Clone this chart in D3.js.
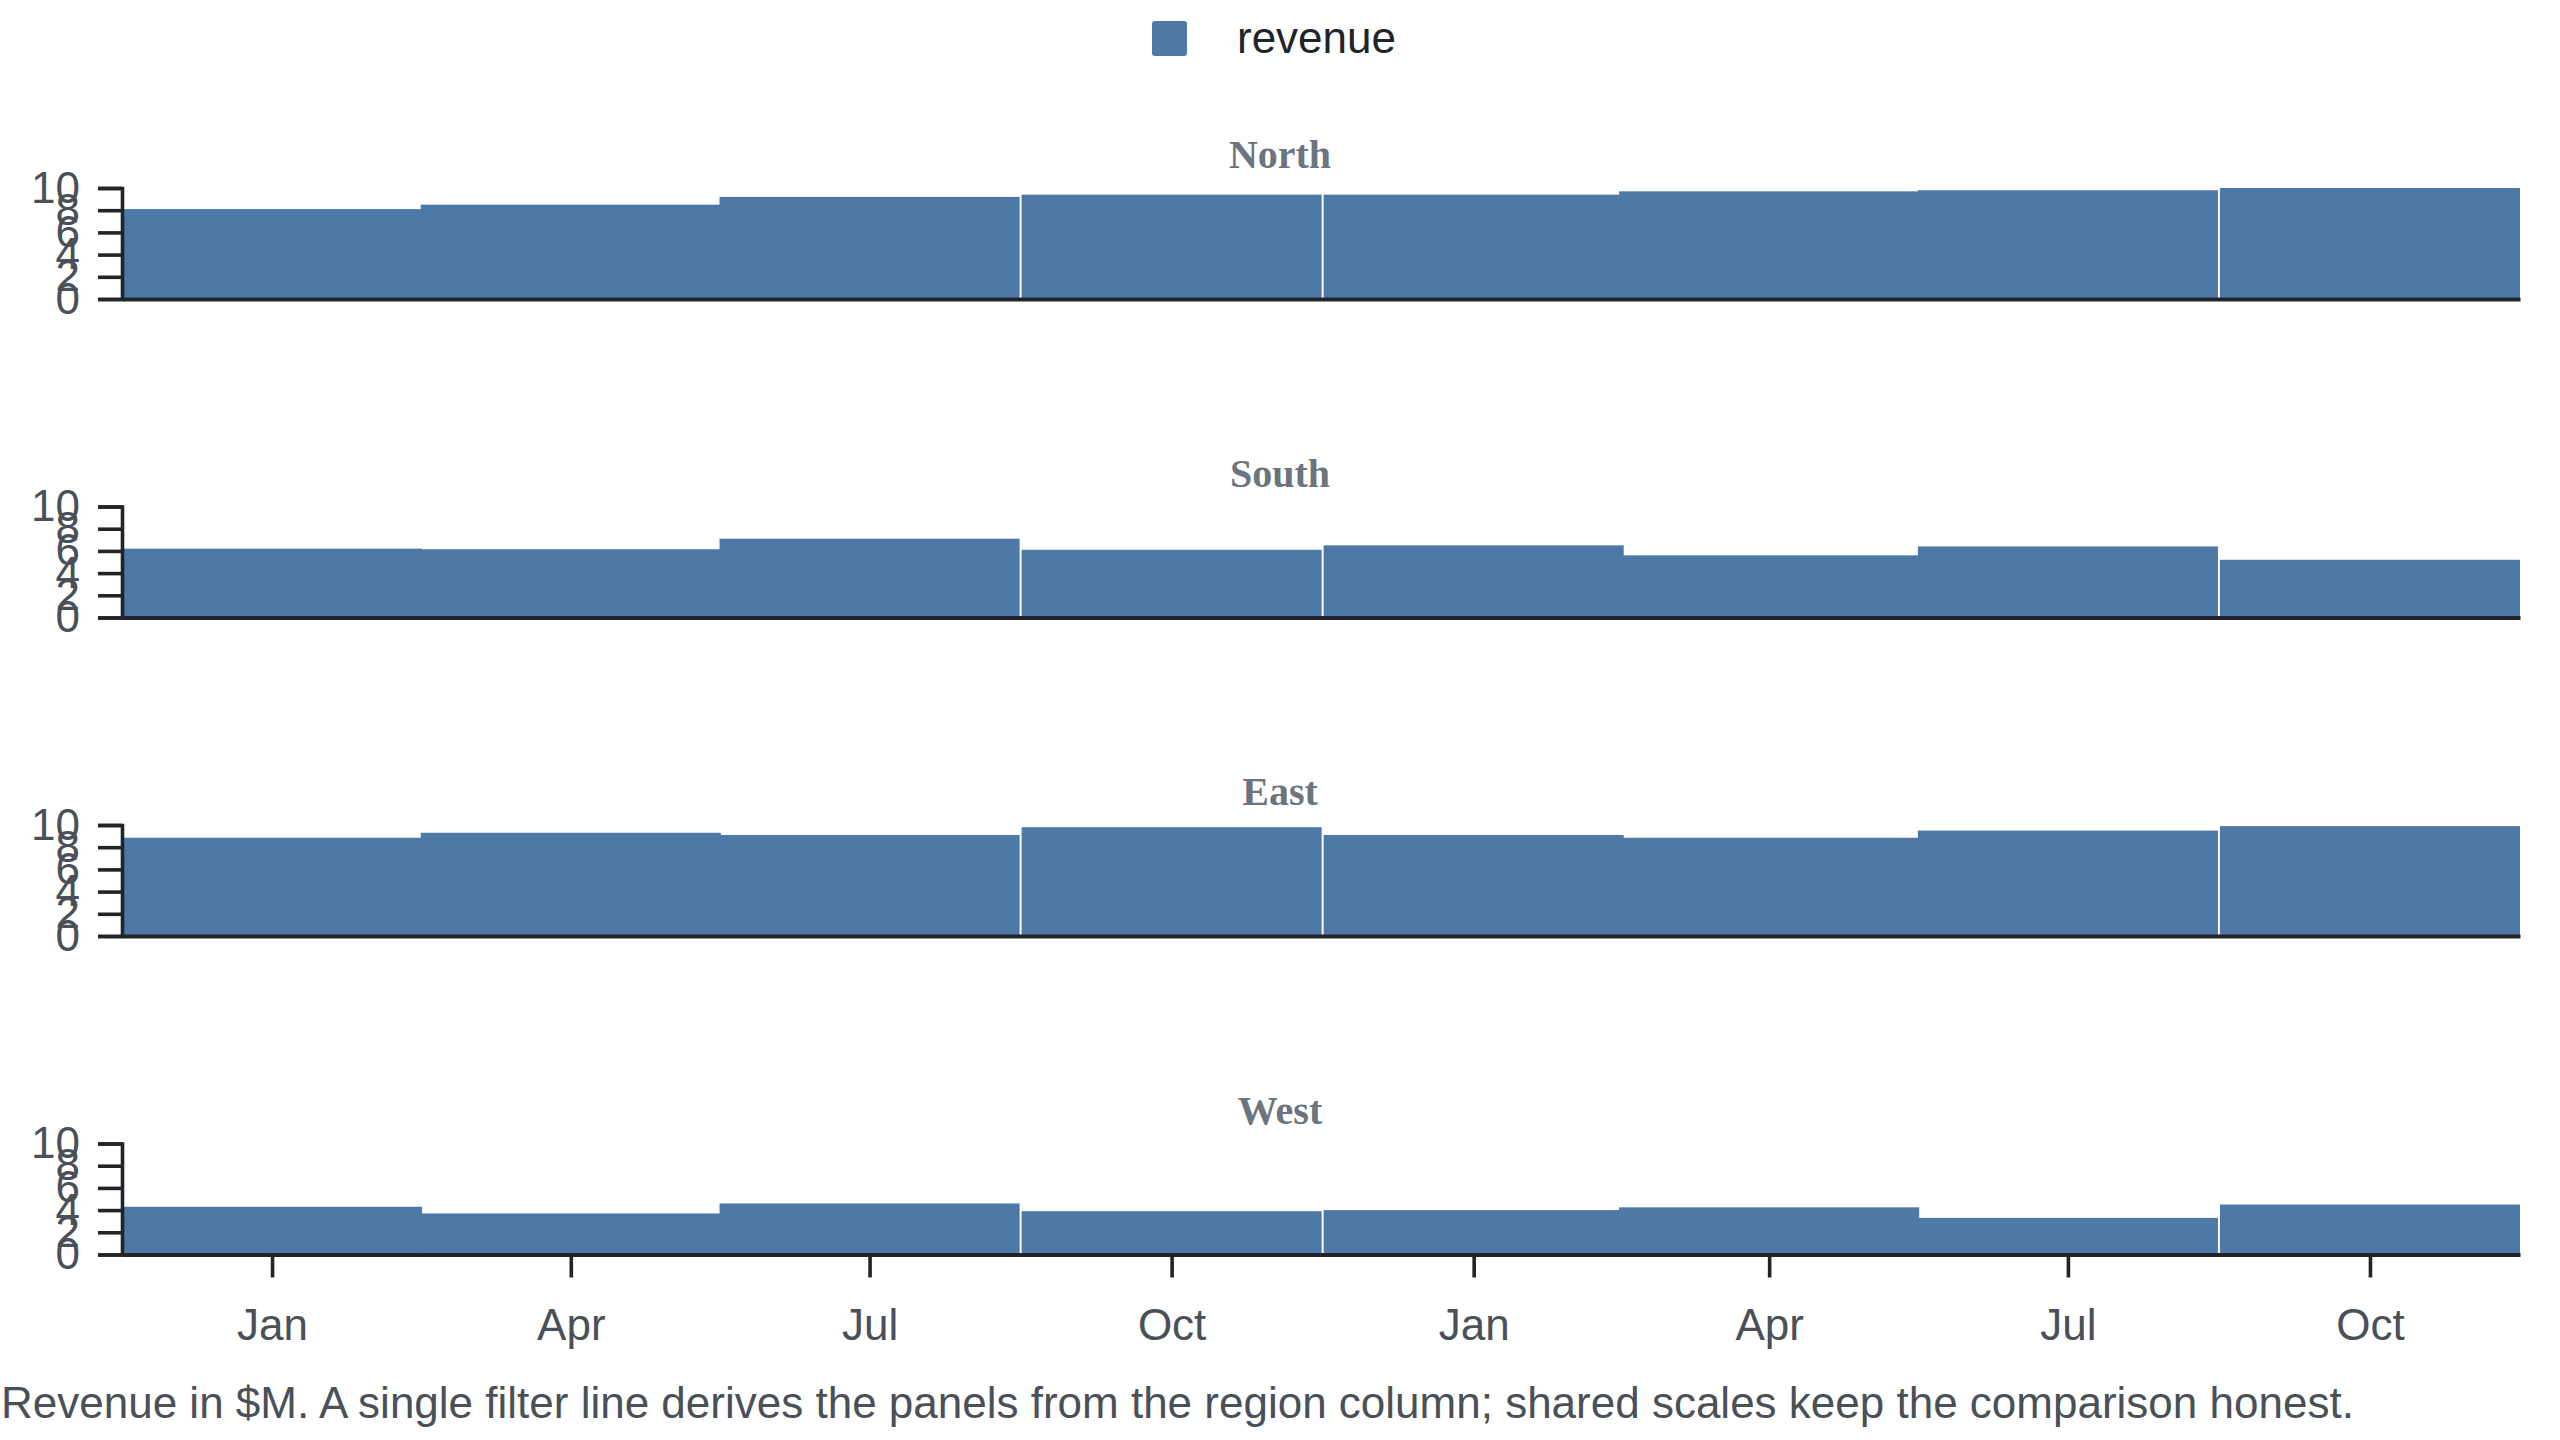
<!DOCTYPE html>
<html>
<head>
<meta charset="utf-8">
<script src="https://cdn.jsdelivr.net/npm/d3@7/dist/d3.min.js"></script>
<style>
  html, body { margin: 0; padding: 0; background: #ffffff; }
  svg { display: block; }
</style>
</head>
<body>
<svg id="chart" width="2560" height="1440"></svg>
<script>
// ---- data ----
const quarters = ["2024-01-01","2024-04-01","2024-07-01","2024-10-01","2025-01-01","2025-04-01","2025-07-01","2025-10-01"];
const regions = ["North","South","East","West"];
const northRevenue = [8.1, 8.5, 9.2, 9.4, 9.4, 9.7, 9.8, 10.0];
const southRevenue = [6.2, 6.15, 7.1, 6.1, 6.5, 5.6, 6.4, 5.2];
const eastRevenue  = [8.85, 9.3, 9.1, 9.8, 9.1, 8.85, 9.5, 9.9];
const westRevenue  = [4.3, 3.7, 4.6, 3.9, 4.0, 4.25, 3.3, 4.5];
const yTickValues = [0, 2, 4, 6, 8, 10];
const seriesName = "revenue";
const caption = "Revenue in $M. A single filter line derives the panels from the region column; shared scales keep the comparison honest.";

const seriesByRegion = { North: northRevenue, South: southRevenue, East: eastRevenue, West: westRevenue };
const rows = [];
regions.forEach(r => quarters.forEach((q, i) => rows.push({ region: r, date: new Date(q + "T00:00:00Z"), revenue: seriesByRegion[r][i] })));

// ---- layout ----
const W = 2560, H = 1440;
const left = 122, right = 2520;
const panelTop0 = 188, panelH = 111, panelStep = 318.5;
const DAY = 864e5;
const halfBar = 45.7 * DAY;
const color = "#4e79a7";
const axisColor = "#212529";
const labelColor = "#495057";
const font = "'Liberation Sans', Arial, Helvetica, sans-serif";

const svg = d3.select("#chart");

const dates = quarters.map(q => new Date(q + "T00:00:00Z"));
const x = d3.scaleUtc()
  .domain([new Date(+dates[0] - halfBar), new Date(+dates[dates.length - 1] + halfBar)])
  .range([left, right]);
const fmt = d3.utcFormat("%b");

// legend
const legend = svg.append("g");
legend.append("rect").attr("x", 1152).attr("y", 21).attr("width", 35).attr("height", 35)
  .attr("rx", 3).attr("fill", color);
legend.append("text").attr("x", 1237).attr("y", 53).text(seriesName)
  .attr("font-family", font).attr("font-size", 44).attr("fill", "#212529");

regions.forEach((region, pi) => {
  const top = panelTop0 + pi * panelStep;
  const y = d3.scaleLinear().domain([0, 10]).range([top + panelH, top]);
  const g = svg.append("g");

  // title
  g.append("text")
    .attr("x", W / 2).attr("y", top - 20)
    .attr("text-anchor", "middle")
    .attr("font-family", "'Liberation Serif', 'Times New Roman', serif")
    .attr("font-weight", "bold").attr("font-size", 40)
    .attr("fill", "#6c757d")
    .text(region);

  // bars
  g.append("g").selectAll("rect")
    .data(rows.filter(d => d.region === region))
    .join("rect")
    .attr("x", d => x(new Date(+d.date - halfBar)))
    .attr("width", d => x(new Date(+d.date + halfBar)) - x(new Date(+d.date - halfBar)))
    .attr("y", d => y(d.revenue))
    .attr("height", d => y(0) - y(d.revenue))
    .attr("fill", color);

  // y axis
  const ya = g.append("g").attr("transform", `translate(${left},0)`)
    .call(d3.axisLeft(y).tickValues(yTickValues).tickSize(24).tickPadding(18));
  ya.selectAll("text").attr("font-family", font).attr("font-size", 44).attr("fill", labelColor);
  ya.selectAll("line, path").attr("stroke", axisColor).attr("stroke-width", 3.6);

  // x axis / baseline
  const isLast = pi === regions.length - 1;
  const xAxis = d3.axisBottom(x).tickSizeInner(23).tickSizeOuter(0).tickPadding(31)
    .tickValues(isLast ? dates : []).tickFormat(fmt);
  const xa = g.append("g").attr("transform", `translate(0,${y(0)})`).call(xAxis);
  xa.selectAll("text").attr("font-family", font).attr("font-size", 44).attr("fill", labelColor);
  xa.selectAll("line, path").attr("stroke", axisColor).attr("stroke-width", 3.6);
  xa.select(".domain").attr("stroke-width", 4);
});

// caption
svg.append("text").attr("x", 1).attr("y", 1418)
  .attr("font-family", font).attr("font-size", 44).attr("fill", labelColor)
  .text(caption);
</script>
</body>
</html>
